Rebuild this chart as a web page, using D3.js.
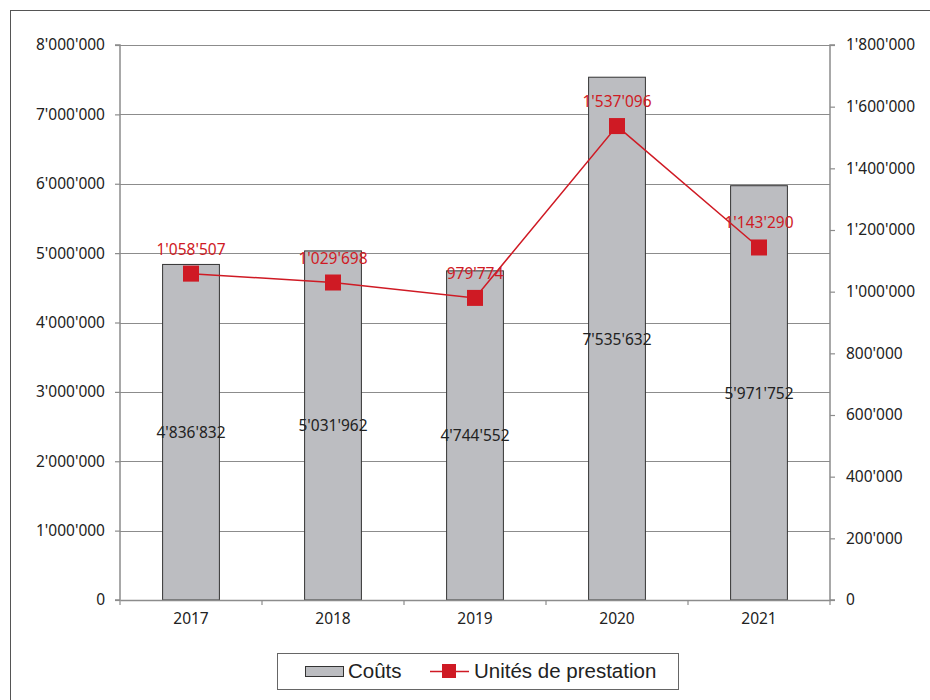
<!DOCTYPE html>
<html>
<head>
<meta charset="utf-8">
<script src="https://cdn.jsdelivr.net/npm/d3@7"></script>
<style>
  body { margin: 0; background: #fff; }
  svg { display: block; }
  text { font-family: "Noto Sans", "Open Sans", sans-serif; }
</style>
</head>
<body>
<svg id="chart" width="930" height="700"></svg>
<script>
// Annual costs (bars, left axis) and service units (line, right axis)
const years = ["2017", "2018", "2019", "2020", "2021"];
const costs = [4836832, 5031962, 4744552, 7535632, 5971752];
const units = [1058507, 1029698, 979774, 1537096, 1143290];
const leftTicks = [0, 1000000, 2000000, 3000000, 4000000, 5000000, 6000000, 7000000, 8000000];
const rightTicks = [0, 200000, 400000, 600000, 800000, 1000000, 1200000, 1400000, 1600000, 1800000];

const fmt = v => d3.format(",")(v).replace(/,/g, "'");
const fs = 15.5;

const svg = d3.select("#chart");
const m = { left: 120, right: 830, top: 45, bottom: 600 };

// outer frame
svg.append("rect").attr("x", 10.5).attr("y", 10.5).attr("width", 1000).attr("height", 1000)
  .attr("fill", "none").attr("stroke", "#555").attr("stroke-width", 1);

const x = d3.scaleBand().domain(years).range([m.left, m.right]).paddingInner(0).paddingOuter(0);
const yL = d3.scaleLinear().domain([0, 8000000]).range([m.bottom, m.top]);
const yR = d3.scaleLinear().domain([0, 1800000]).range([m.bottom, m.top]);

// grid lines
svg.append("g").selectAll("line").data(leftTicks.filter(d => d > 0)).join("line")
  .attr("x1", m.left).attr("x2", m.right)
  .attr("y1", d => Math.round(yL(d)) + 0.5).attr("y2", d => Math.round(yL(d)) + 0.5)
  .attr("stroke", "#8c8c8c").attr("stroke-width", 1.2);

// bars
const bw = x.bandwidth() * 0.4;
svg.append("g").selectAll("rect").data(years).join("rect")
  .attr("x", (d) => x(d) + x.bandwidth() / 2 - bw / 2)
  .attr("width", bw)
  .attr("y", (d, i) => yL(costs[i]))
  .attr("height", (d, i) => yL(0) - yL(costs[i]))
  .attr("fill", "#bcbdc1").attr("stroke", "#333").attr("stroke-width", 1);

// bar value labels centred in the bars
svg.append("g").selectAll("text").data(years).join("text")
  .attr("x", d => x(d) + x.bandwidth() / 2)
  .attr("y", (d, i) => (yL(costs[i]) + yL(0)) / 2 + 6)
  .attr("text-anchor", "middle").attr("font-size", fs).attr("fill", "#222")
  .text((d, i) => fmt(costs[i]));

// axes
const axisColor = "#8c8c8c";
const leftAxis = svg.append("g").attr("transform", `translate(${m.left},0)`)
  .call(d3.axisLeft(yL).tickValues(leftTicks).tickFormat(fmt).tickSize(5).tickPadding(10));
const rightAxis = svg.append("g").attr("transform", `translate(${m.right},0)`)
  .call(d3.axisRight(yR).tickValues(rightTicks).tickFormat(fmt).tickSize(5).tickPadding(11));
const bottomAxis = svg.append("g").attr("transform", `translate(0,${m.bottom})`)
  .call(d3.axisBottom(x).tickSize(0).tickPadding(13));
// category boundary ticks
svg.append("g").selectAll("line").data(d3.range(years.length + 1)).join("line")
  .attr("x1", i => m.left + i * x.step()).attr("x2", i => m.left + i * x.step())
  .attr("y1", m.bottom).attr("y2", m.bottom + 5)
  .attr("stroke", axisColor).attr("stroke-width", 1.2);

[leftAxis, rightAxis, bottomAxis].forEach(g => {
  g.select(".domain").attr("stroke", axisColor).attr("stroke-width", 1.5);
  g.selectAll(".tick line").attr("stroke", axisColor).attr("stroke-width", 1.2);
  g.selectAll(".tick text").attr("font-size", fs).attr("fill", "#222")
    .style("font-family", '"Noto Sans", sans-serif');
});
leftAxis.select(".domain").attr("d", `M-5,${m.top}H0V${m.bottom}H-5`);
rightAxis.select(".domain").attr("d", `M5,${m.top}H0V${m.bottom}H5`);

// units line
const red = "#cf1a24";
const cx = d => x(d) + x.bandwidth() / 2;
svg.append("path")
  .datum(years)
  .attr("d", d3.line().x(cx).y((d, i) => yR(units[i])))
  .attr("fill", "none").attr("stroke", red).attr("stroke-width", 1.5);

svg.append("g").selectAll("rect").data(years).join("rect")
  .attr("x", d => cx(d) - 8).attr("y", (d, i) => yR(units[i]) - 8)
  .attr("width", 16).attr("height", 16).attr("fill", red);

svg.append("g").selectAll("text").data(years).join("text")
  .attr("x", cx).attr("y", (d, i) => yR(units[i]) - 19)
  .attr("text-anchor", "middle").attr("font-size", fs).attr("fill", red)
  .text((d, i) => fmt(units[i]));

// legend
const lg = svg.append("g");
lg.append("rect").attr("x", 277.5).attr("y", 653.5).attr("width", 401).attr("height", 36)
  .attr("fill", "#fff").attr("stroke", "#666").attr("stroke-width", 1);
lg.append("rect").attr("x", 305.5).attr("y", 666.5).attr("width", 38).attr("height", 10)
  .attr("fill", "#bcbdc1").attr("stroke", "#333").attr("stroke-width", 1);
lg.append("text").attr("x", 348).attr("y", 678).attr("font-size", 20.5).attr("fill", "#222")
  .style("font-family", '"Liberation Sans", Arial, sans-serif').text("Coûts");
lg.append("line").attr("x1", 430).attr("x2", 469).attr("y1", 671.5).attr("y2", 671.5)
  .attr("stroke", red).attr("stroke-width", 1.5);
lg.append("rect").attr("x", 442).attr("y", 664).attr("width", 14).attr("height", 14).attr("fill", red);
lg.append("text").attr("x", 474).attr("y", 678).attr("font-size", 20.5).attr("fill", "#222")
  .style("font-family", '"Liberation Sans", Arial, sans-serif').text("Unités de prestation");
</script>
</body>
</html>
